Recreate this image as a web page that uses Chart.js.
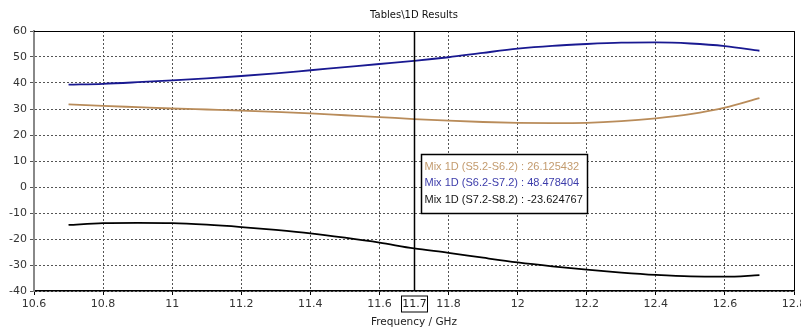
<!DOCTYPE html>
<html lang="en">
<head>
    <meta charset="UTF-8">
    <title>Tables\1D Results</title>
    <script src="https://cdn.jsdelivr.net/npm/chart.js"></script>
    <style>
        html, body { margin: 0; padding: 0; background: #fff; }
        #wrap { width: 801px; height: 329px; }
    </style>
</head>
<body>
    <div id="wrap"><canvas id="myChart" width="801" height="329"></canvas></div>
    <script>
        // datos
        const freqs = [10.7, 10.8, 10.9, 11.0, 11.1, 11.2, 11.3, 11.4, 11.5, 11.6, 11.7,
                       11.8, 11.9, 12.0, 12.1, 12.2, 12.3, 12.4, 12.5, 12.6, 12.7];
        const mixS52 = [31.8, 31.2, 30.7, 30.2, 29.8, 29.4, 28.9, 28.3, 27.6, 26.9, 26.13,
                        25.5, 25.0, 24.7, 24.6, 24.7, 25.3, 26.4, 28.0, 30.5, 34.2];
        const mixS62 = [39.4, 39.7, 40.3, 41.0, 41.8, 42.7, 43.7, 44.9, 46.1, 47.3, 48.48,
                        49.9, 51.6, 53.2, 54.3, 55.0, 55.5, 55.6, 55.2, 54.2, 52.4];
        const mixS72 = [-14.6, -13.9, -13.8, -13.9, -14.5, -15.4, -16.5, -17.8, -19.5, -21.4, -23.62,
                        -25.3, -27.2, -29.0, -30.5, -31.8, -32.9, -33.8, -34.4, -34.5, -33.9];
        const seriesNames = ['Mix 1D (S5.2-S6.2)', 'Mix 1D (S6.2-S7.2)', 'Mix 1D (S7.2-S8.2)'];
        const markerX = 11.7;
        const markerValues = ['26.125432', '48.478404', '-23.624767'];
        const chartTitle = 'Tables\\1D Results';

        const FONT = 'DejaVu Sans, Verdana, sans-serif';
        const BOXFONT = '"Liberation Sans", Arial, sans-serif';
        const lineColors = ['rgb(185,140,90)', 'rgb(25,25,145)', 'rgb(0,0,0)'];
        const textColors = ['rgb(195,155,110)', 'rgb(60,60,170)', 'rgb(20,20,20)'];

        function toPoints(ys) {
            return freqs.map((f, i) => ({ x: f, y: ys[i] }));
        }

        const datasets = [mixS52, mixS62, mixS72].map((ys, i) => ({
            label: seriesNames[i],
            data: toPoints(ys),
            borderColor: lineColors[i],
            borderWidth: 1.8,
            pointRadius: 0,
            cubicInterpolationMode: 'monotone',
            fill: false
        }));

        /* titulo, marco, marcador y cuadro de valores */
        const marker = {
            id: 'marker',
            beforeDatasetsDraw(chart) {
                const { ctx, chartArea: a } = chart;
                ctx.save();
                ctx.fillStyle = '#111';
                ctx.font = '10px ' + FONT;
                ctx.textAlign = 'center';
                ctx.textBaseline = 'middle';
                ctx.fillText(chartTitle, (a.left + a.right) / 2, 15);

                ctx.strokeStyle = '#000';
                ctx.lineWidth = 1;
                ctx.beginPath();
                ctx.moveTo(a.left, a.top + 0.5);
                ctx.lineTo(a.right + 0.5, a.top + 0.5);
                ctx.lineTo(a.right + 0.5, a.bottom);
                ctx.stroke();
                ctx.restore();
            },
            afterDatasetsDraw(chart) {
                const { ctx, chartArea: a, scales } = chart;
                const px = Math.round(scales.x.getPixelForValue(markerX)) + 0.5;
                ctx.save();
                ctx.strokeStyle = '#000';
                ctx.lineWidth = 1.5;
                ctx.beginPath();
                ctx.moveTo(px, a.top);
                ctx.lineTo(px, a.bottom);
                ctx.stroke();

                // etiqueta en el eje
                ctx.font = '11px ' + FONT;
                ctx.fillStyle = '#fff';
                ctx.fillRect(px - 13, a.bottom + 5, 26, 16);
                ctx.lineWidth = 1;
                ctx.strokeRect(px - 13, a.bottom + 5, 26, 16);
                ctx.fillStyle = '#222';
                ctx.textAlign = 'center';
                ctx.textBaseline = 'middle';
                ctx.fillText(String(markerX), px, a.bottom + 13.5);

                // cuadro de valores
                const bx = px + 7, by = 154.5, bw = 166, bh = 59;
                ctx.fillStyle = '#fff';
                ctx.fillRect(bx, by, bw, bh);
                ctx.lineWidth = 1.5;
                ctx.strokeRect(bx, by, bw, bh);
                ctx.textAlign = 'left';
                ctx.font = '11px ' + BOXFONT;
                seriesNames.forEach((n, i) => {
                    ctx.fillStyle = textColors[i];
                    ctx.fillText(n + ' : ' + markerValues[i], bx + 3, by + 12.5 + i * 16.3);
                });
                ctx.restore();
            }
        };

        const config = {
            type: 'line',
            data: { datasets },
            plugins: [marker],
            options: {
                responsive: false,
                animation: false,
                layout: { padding: { top: 31, right: 7, left: 0, bottom: 0 } },
                plugins: {
                    legend: { display: false },
                    tooltip: { enabled: false },
                    title: { display: false }
                },
                scales: {
                    x: {
                        type: 'linear',
                        min: 10.6,
                        max: 12.8,
                        ticks: {
                            stepSize: 0.2,
                            color: '#333',
                            font: { family: FONT, size: 11 },
                            padding: 3,
                            maxRotation: 0,
                            callback: (v) => Number(v.toFixed(1)).toString()
                        },
                        grid: {
                            color: '#555',
                            lineWidth: 1,
                            tickLength: 4,
                            tickColor: '#000',
                            tickBorderDash: []
                        },
                        border: { display: true, color: '#000', width: 1.5, dash: [2, 2] },
                        title: {
                            display: true,
                            text: 'Frequency / GHz',
                            color: '#222',
                            font: { family: FONT, size: 10.5 },
                            padding: { top: 0, bottom: 0 }
                        },
                        afterFit(s) {
                            s.height = 38;
                            s.paddingLeft = 0;
                            s.paddingRight = 0;
                        }
                    },
                    y: {
                        min: -40,
                        max: 60,
                        ticks: {
                            stepSize: 10,
                            color: '#333',
                            font: { family: FONT, size: 11 },
                            padding: 3
                        },
                        grid: {
                            color: '#555',
                            lineWidth: 1,
                            tickLength: 4,
                            tickColor: '#555',
                            tickBorderDash: []
                        },
                        border: { display: true, color: '#888', width: 2, dash: [2, 2] },
                        afterFit(s) {
                            s.width = 34;
                            s.paddingTop = 0;
                            s.paddingBottom = 0;
                        }
                    }
                }
            }
        };

        new Chart(document.getElementById('myChart'), config);
    </script>
</body>
</html>
